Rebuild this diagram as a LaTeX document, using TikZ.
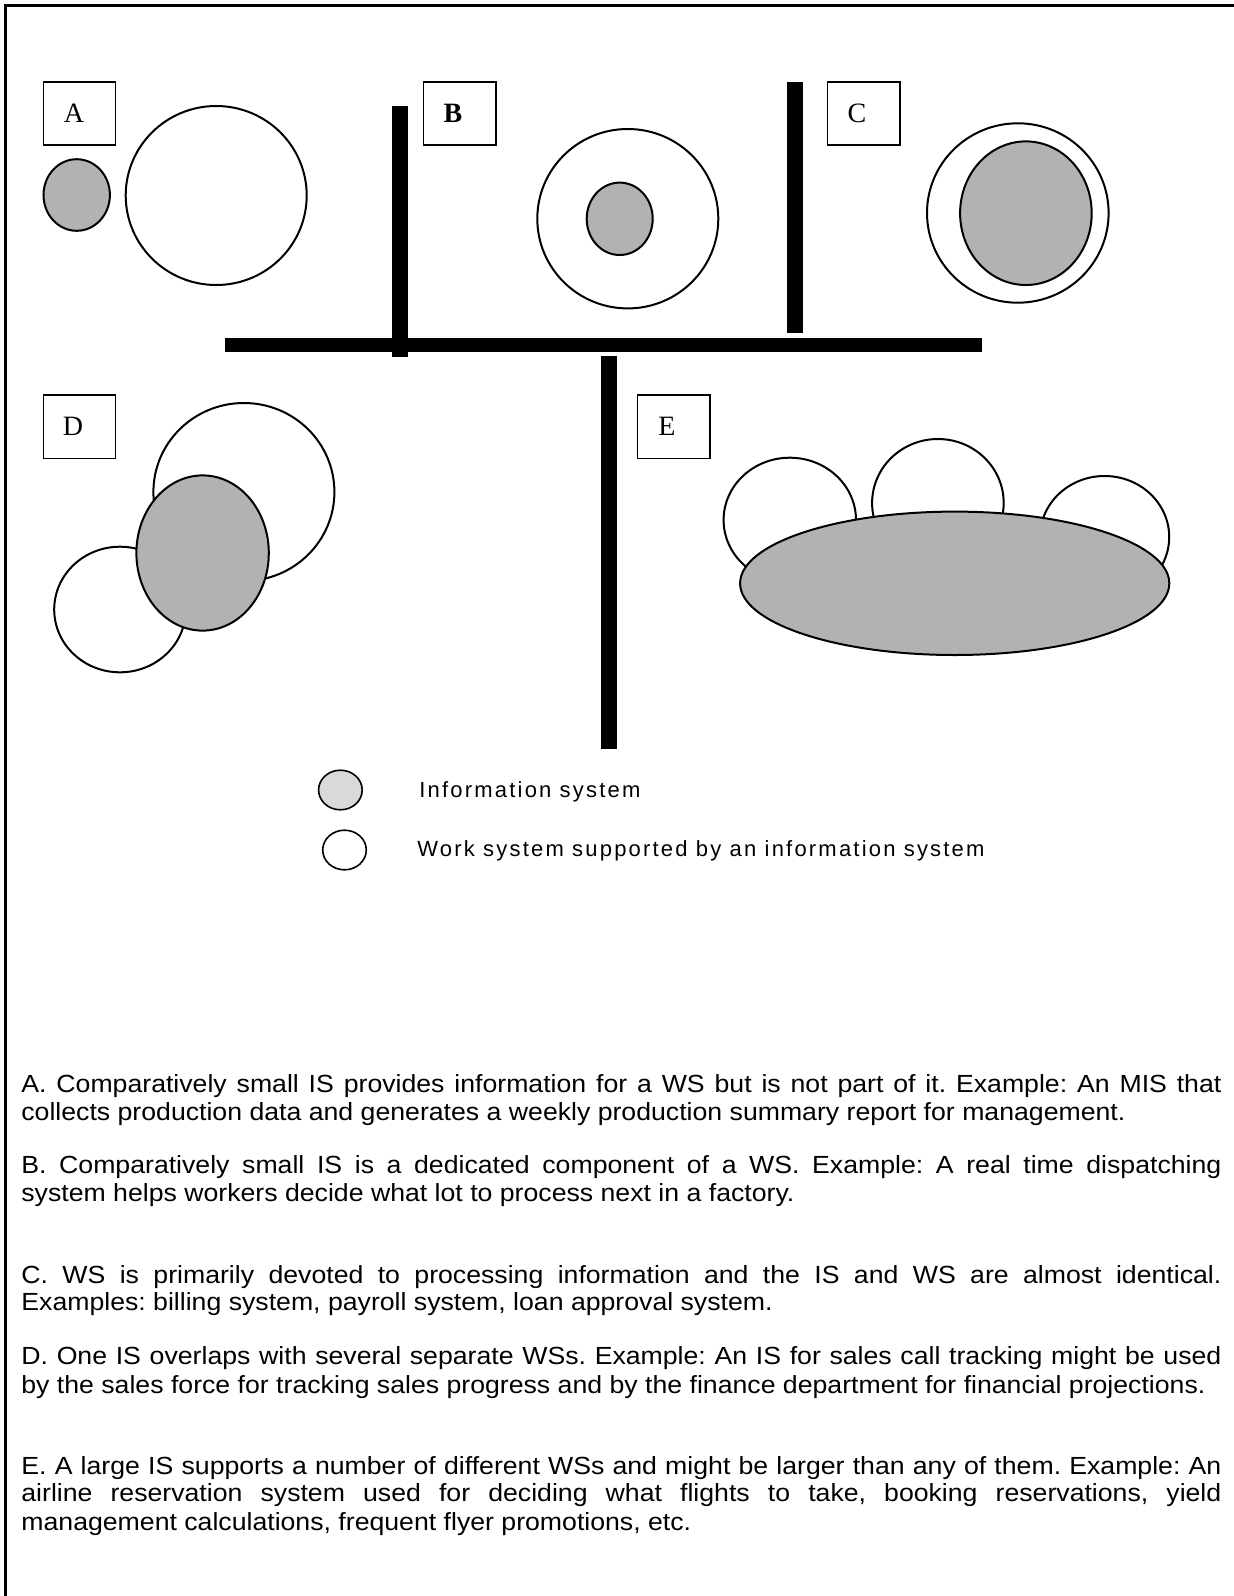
\documentclass[tikz,border=0pt]{standalone}
\usepackage{fontspec}
\setmainfont{Liberation Sans}
\newfontfamily\timesf{Liberation Serif}
\newfontfamily\parafont[FakeStretch=1.075,Ligatures=NoCommon]{Liberation Sans}
\definecolor{isgray}{RGB}{178,178,178}
\definecolor{leggray}{RGB}{217,217,217}
\newcommand\jline[1]{\makebox[600pt][s]{#1}}
\frenchspacing
\begin{document}
\begin{tikzpicture}[x=0.5pt,y=-0.5pt,
  wsys/.style={draw=black, line width=1pt, fill=white},
  isys/.style={draw=black, line width=1pt, fill=isgray},
  blackbar/.style={fill=black, draw=none},
  lbox/.style={draw=black, line width=0.8pt, fill=white},
  lbl/.style={inner sep=0pt, font=\timesf\fontsize{14pt}{16pt}\selectfont},
  pline/.style={anchor=base west, inner sep=0pt, font=\parafont\fontsize{12.4pt}{13.8pt}\selectfont\frenchspacing},
  legtext/.style={anchor=base west, inner sep=0pt, font=\fontsize{11pt}{13pt}\selectfont\addfontfeature{LetterSpace=10}},
  frameline/.style={draw=black, line width=1.2pt}
]
\useasboundingbox (0,0) rectangle (1233,1596);
% frame (top and left visible)
\draw[frameline] (5.5,1600) -- (5.5,5.5) -- (1240,5.5);

% ---------- A ----------
\draw[lbox] (43.5,82) rectangle (115.5,145);
\node[lbl] (labA) at (74,113.5) {A};
\draw[isys] (76.7,195) ellipse [x radius=16.6pt, y radius=17.9pt];
\draw[wsys] (216.2,195.5) ellipse [x radius=45.25pt, y radius=44.75pt];

% ---------- B ----------
\draw[lbox] (423.5,82) rectangle (496,145);
\node[lbl, font=\timesf\bfseries\fontsize{14pt}{16pt}\selectfont] (labB) at (453,113.5) {B};
\draw[wsys] (627.8,218.7) ellipse [x radius=45.25pt, y radius=44.85pt];
\draw[isys] (619.7,218.8) ellipse [x radius=16.5pt, y radius=18.1pt];

% ---------- C ----------
\draw[lbox] (827.5,82) rectangle (900,145);
\node[lbl] (labC) at (857,113.5) {C};
\draw[wsys] (1017.8,213) ellipse [x radius=45.4pt, y radius=44.85pt];
\draw[isys] (1025.9,213.2) ellipse [x radius=32.9pt, y radius=35.9pt];

% ---------- bars ----------
\fill[blackbar] (391.5,106) rectangle (408,356.5);
\fill[blackbar] (787,82) rectangle (803,332.5);
\fill[blackbar] (224.5,338.3) rectangle (982,351.7);
\fill[blackbar] (600.8,356) rectangle (616.6,749.3);

% ---------- D ----------
\draw[lbox] (43.5,395) rectangle (115.5,458.3);
\node[lbl] (labD) at (73,426.7) {D};
\draw[wsys] (243.9,492) ellipse [x radius=45.25pt, y radius=44.5pt];
\draw[wsys] (120,609.5) ellipse [x radius=32.9pt, y radius=31.4pt];
\draw[isys] (202.6,553) ellipse [x radius=33.1pt, y radius=38.8pt];

% ---------- E ----------
\draw[lbox] (637.5,395) rectangle (709.8,458.3);
\node[lbl] (labE) at (667,426.7) {E};
\draw[wsys] (789.8,520) ellipse [x radius=33.1pt, y radius=31.15pt];
\draw[wsys] (937.9,503) ellipse [x radius=32.9pt, y radius=32pt];
\draw[wsys] (1104.6,537) ellipse [x radius=32.3pt, y radius=30.5pt];
\draw[isys] (954.7,583.3) ellipse [x radius=107.3pt, y radius=35.85pt];

% ---------- legend ----------
\draw[draw=black, line width=0.8pt, fill=leggray] (340.4,790) ellipse [x radius=10.9pt, y radius=9.9pt];
\draw[draw=black, line width=0.8pt, fill=white] (344.5,850) ellipse [x radius=10.9pt, y radius=9.9pt];
\node[legtext] (legIS) at (419,797) {Information system};
\node[legtext] (legWS) at (417,856) {Work system supported by an information system};

% ---------- paragraphs ----------
\node[pline] (a1) at (21,1092) {\jline{A. Comparatively small IS provides information for a WS but is not part of it. Example: An MIS that}};
\node[pline] (a2) at (21,1120) {collects production data and generates a weekly production summary report for management.};
\node[pline] (b1) at (21,1173) {\jline{B. Comparatively small IS is a dedicated component of a WS. Example: A real time dispatching}};
\node[pline] (b2) at (21,1201) {system helps workers decide what lot to process next in a factory.};
\node[pline] (c1) at (21,1283) {\jline{C. WS is primarily devoted to processing information and the IS and WS are almost identical.}};
\node[pline] (c2) at (21,1310) {Examples: billing system, payroll system, loan approval system.};
\node[pline] (d1) at (21,1364) {\jline{D. One IS overlaps with several separate WSs. Example: An IS for sales call tracking might be used}};
\node[pline] (d2) at (21,1393) {by the sales force for tracking sales progress and by the finance department for financial projections.};
\node[pline] (e1) at (21,1474) {\jline{E. A large IS supports a number of different WSs and might be larger than any of them. Example: An}};
\node[pline] (e2) at (21,1501) {\jline{airline reservation system used for deciding what flights to take, booking reservations, yield}};
\node[pline] (e3) at (21,1530) {management calculations, frequent flyer promotions, etc.};
\end{tikzpicture}
\end{document}
